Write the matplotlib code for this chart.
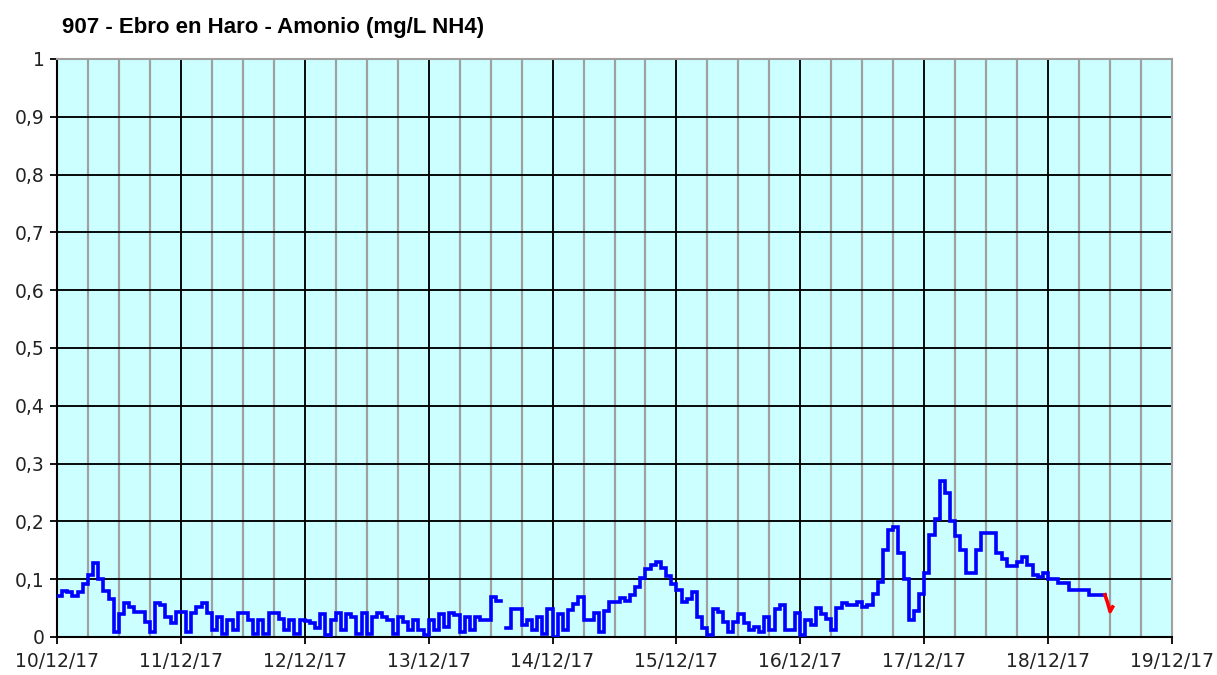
import numpy as np
import pandas as pd
import matplotlib
matplotlib.use("Agg")
import matplotlib.pyplot as plt
import matplotlib.dates as mdates
from matplotlib.ticker import FuncFormatter, MultipleLocator

title = "907 - Ebro en Haro - Amonio (mg/L NH4)"
start_date = "2017-12-10"
end_date = "2017-12-19"

# hourly values, mg/L NH4
day10 = [0.071, 0.080, 0.077, 0.071, 0.078, 0.092, 0.107, 0.128, 0.100, 0.080, 0.065, 0.009,
         0.040, 0.058, 0.052, 0.044, 0.044, 0.026, 0.009, 0.058, 0.055, 0.035, 0.024, 0.044]
day11 = [0.044, 0.009, 0.041, 0.052, 0.059, 0.041, 0.012, 0.035, 0.006, 0.030, 0.012, 0.041,
         0.042, 0.030, 0.006, 0.030, 0.005, 0.041, 0.042, 0.032, 0.012, 0.030, 0.006, 0.030]
day12 = [0.028, 0.025, 0.015, 0.040, 0.003, 0.030, 0.042, 0.012, 0.040, 0.035, 0.005, 0.042,
         0.006, 0.035, 0.042, 0.035, 0.030, 0.006, 0.035, 0.026, 0.012, 0.030, 0.012, 0.003]
day13 = [0.030, 0.012, 0.040, 0.018, 0.042, 0.038, 0.009, 0.035, 0.012, 0.035, 0.030, 0.030,
         0.070, 0.062, np.nan, 0.015, 0.049, 0.049, 0.020, 0.030, 0.012, 0.035, 0.006, 0.049]
day14 = [0.000, 0.040, 0.012, 0.047, 0.057, 0.070, 0.029, 0.029, 0.041, 0.009, 0.045, 0.060,
         0.060, 0.068, 0.062, 0.072, 0.087, 0.102, 0.117, 0.124, 0.130, 0.120, 0.105, 0.092]
day15 = [0.081, 0.061, 0.065, 0.078, 0.035, 0.015, 0.003, 0.049, 0.044, 0.026, 0.009, 0.026,
         0.040, 0.024, 0.012, 0.018, 0.009, 0.035, 0.012, 0.049, 0.055, 0.012, 0.012, 0.041]
day16 = [0.003, 0.030, 0.020, 0.050, 0.040, 0.032, 0.012, 0.050, 0.058, 0.055, 0.055, 0.061,
         0.052, 0.055, 0.075, 0.095, 0.150, 0.185, 0.190, 0.145, 0.100, 0.030, 0.045, 0.075]
day17 = [0.110, 0.176, 0.205, 0.270, 0.250, 0.200, 0.174, 0.150, 0.110, 0.110, 0.150, 0.180,
         0.180, 0.180, 0.145, 0.135, 0.123, 0.123, 0.130, 0.139, 0.125, 0.107, 0.104, 0.110]
day18 = [0.101, 0.101, 0.093, 0.093, 0.081, 0.081, 0.081, 0.081, 0.073, 0.073, 0.073, 0.073]

# last, unvalidated readings (red), hours after 18/12 00:00
red_hours = [11.0, 11.5, 12.0, 12.5]
red_values = [0.073, 0.060, 0.044, 0.052]

blue_values = day10 + day11 + day12 + day13 + day14 + day15 + day16 + day17 + day18
blue_times = pd.date_range(start_date, periods=len(blue_values), freq="h")
red_times = pd.Timestamp("2017-12-18") + pd.to_timedelta(red_hours, unit="h")

W, H = 1217, 675
fig = plt.figure(figsize=(W / 100, H / 100), dpi=100)
ax = fig.add_axes([57 / W, 1 - 637 / H, (1172 - 57) / W, (637 - 59) / H])
ax.set_facecolor("#CCFFFF")

ax.plot(blue_times, blue_values, color="#0000FF", lw=2.6, drawstyle="steps-post",
        solid_joinstyle="miter", zorder=3)
ax.plot(red_times, red_values, color="#FF0000", lw=2.6, zorder=3)

ax.set_xlim(pd.Timestamp(start_date), pd.Timestamp(end_date))
ax.set_ylim(0, 1)

ax.xaxis.set_major_locator(mdates.DayLocator())
ax.xaxis.set_minor_locator(mdates.HourLocator(byhour=[6, 12, 18]))
ax.xaxis.set_major_formatter(mdates.DateFormatter("%d/%m/%y"))
ax.yaxis.set_major_locator(MultipleLocator(0.1))
ax.yaxis.set_major_formatter(FuncFormatter(
    lambda v, p: "0" if abs(v) < 1e-9 else ("1" if abs(v - 1) < 1e-9 else f"{v:.1f}".replace(".", ","))))

ax.grid(which="major", axis="both", color="#000000", lw=1.35, zorder=1)
ax.grid(which="minor", axis="x", color="#A0A0A0", lw=1.6, zorder=0.9)
ax.set_axisbelow(True)

ax.tick_params(axis="both", which="major", direction="out", length=5, width=1.3,
               color="#000000", labelsize=13.5, labelcolor="#222222")
ax.tick_params(axis="x", which="major", pad=6)
ax.tick_params(axis="y", which="major", pad=4)
ax.tick_params(axis="x", which="minor", length=0)
for lab in ax.get_xticklabels() + ax.get_yticklabels():
    lab.set_fontfamily("DejaVu Sans")

ax.spines["left"].set_color("#000000")
ax.spines["bottom"].set_color("#000000")
ax.spines["top"].set_color("#A0A0A0")
ax.spines["right"].set_color("#A0A0A0")
for s in ax.spines.values():
    s.set_linewidth(1.5)

fig.text(62 / W, 1 - 28 / H, title, fontsize=16, fontweight="bold",
         family="Liberation Sans", color="#000000", va="center", ha="left")

fig.savefig("out.png", dpi=100)
